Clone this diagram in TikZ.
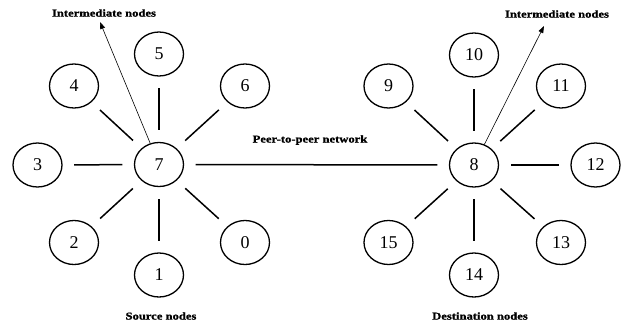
\documentclass[tikz,border=0pt]{standalone}
\usepackage{fontspec}
\setmainfont{Liberation Serif}
\newfontfamily\lblfont[FakeStretch=1.2,FakeBold=1.2]{Liberation Serif}
\usetikzlibrary{shapes.geometric,arrows.meta}
\begin{document}
\begin{tikzpicture}[x=1pt,y=-1pt,
  nd/.style={draw,ellipse,line width=1.3pt,minimum width=49pt,minimum height=44pt,inner sep=0pt,font=\fontsize{18}{20}\selectfont},
  link/.style={line width=1.5pt,shorten <=11.5pt,shorten >=11.5pt},
  ptr/.style={line width=0.6pt,-{Triangle[length=7pt,width=5pt]}},
  lbl/.style={font=\lblfont\bfseries\fontsize{10.5}{12}\selectfont,inner sep=0pt}]
\useasboundingbox (0,0) rectangle (624,322);
% left cluster
\node[nd] (n7) at (159,164.5) {7};
\node[nd] (n5) at (159,54) {5};
\node[nd] (n4) at (74,86) {4};
\node[nd] (n6) at (245,86) {6};
\node[nd] (n3) at (37.5,165) {3};
\node[nd] (n2) at (74,242.5) {2};
\node[nd] (n1) at (159,275) {1};
\node[nd] (n0) at (245,242.5) {0};
% right cluster
\node[nd] (n8) at (474,165) {8};
\node[nd] (n10) at (474,55) {10};
\node[nd] (n9) at (388.5,86) {9};
\node[nd] (n11) at (561,86) {11};
\node[nd] (n12) at (595.5,165) {12};
\node[nd] (n15) at (388.5,242.5) {15};
\node[nd] (n14) at (474,275) {14};
\node[nd] (n13) at (561,242.5) {13};
% links
\foreach \a in {n5,n4,n6,n3,n2,n1,n0} \draw[link] (\a) -- (n7);
\foreach \a in {n10,n9,n11,n12,n15,n14,n13} \draw[link] (\a) -- (n8);
\draw[link] (n7) -- (n8);
% labels
\node[lbl] (tl) at (104,13) {Intermediate nodes};
\node[lbl] (tr) at (557,14) {Intermediate nodes};
\node[lbl] (tp) at (310,140) {Peer-to-peer network};
\node[lbl] (ts) at (161,316) {Source nodes};
\node[lbl] (td) at (480,316) {Destination nodes};
\coordinate (al) at (100,22);
\coordinate (ar) at (544,26);
\draw[ptr] (n7) -- (al);
\draw[ptr] (n8) -- (ar);
\end{tikzpicture}
\end{document}
